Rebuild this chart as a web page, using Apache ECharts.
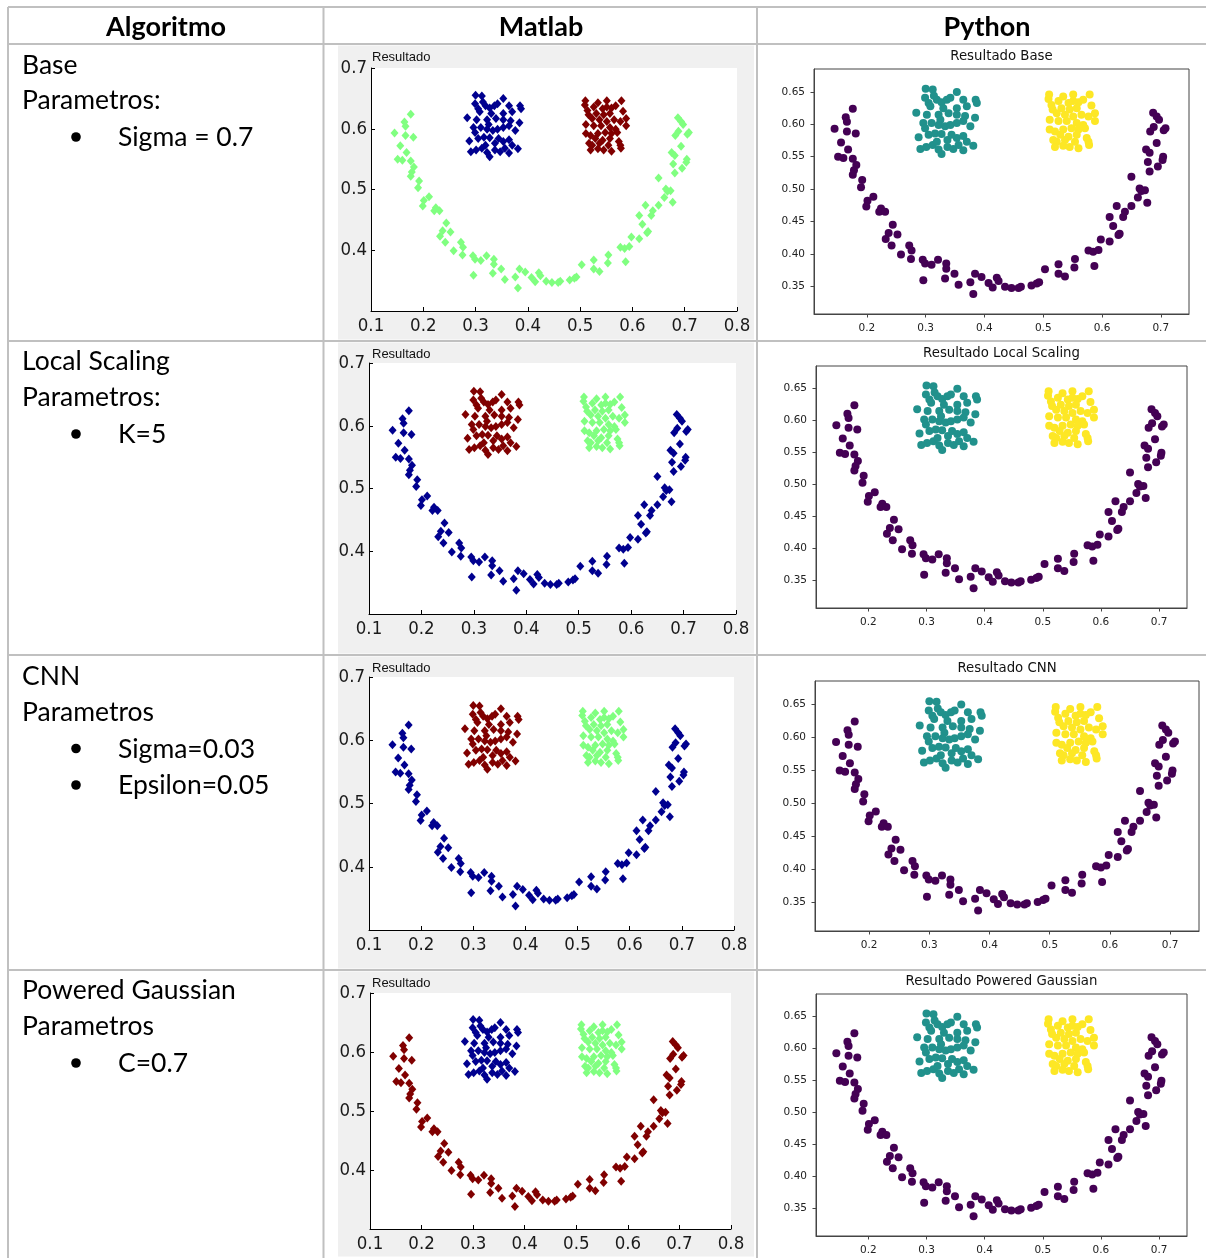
<!DOCTYPE html>
<html>
<head>
<meta charset="utf-8">
<script src="https://cdn.jsdelivr.net/npm/echarts@6/dist/echarts.min.js"></script>
<style>
html, body { margin: 0; padding: 0; background: #fff; }
#chart { width: 1206px; height: 1258px; }
</style>
</head>
<body>
<div id="chart"></div>
<script>
// puntos del dataset (media luna + dos bloques)
var moonPts = [
  [0.176,0.624],[0.164,0.611],[0.166,0.604],[0.145,0.593],[0.166,0.589],[0.181,0.586],
  [0.156,0.572],[0.168,0.561],[0.151,0.550],[0.160,0.548],[0.176,0.547],[0.182,0.537],
  [0.178,0.529],[0.176,0.522],[0.192,0.514],[0.190,0.503],[0.211,0.488],[0.201,0.482],
  [0.199,0.473],[0.224,0.470],[0.221,0.465],[0.231,0.465],[0.244,0.445],[0.237,0.432],
  [0.252,0.430],[0.232,0.423],[0.242,0.413],[0.272,0.413],[0.276,0.405],[0.258,0.399],
  [0.275,0.392],[0.295,0.391],[0.299,0.385],[0.310,0.383],[0.321,0.391],[0.335,0.385],
  [0.335,0.377],[0.296,0.359],[0.333,0.362],[0.349,0.369],[0.356,0.352],[0.384,0.369],
  [0.376,0.356],[0.381,0.338],[0.395,0.364],[0.407,0.355],[0.414,0.348],[0.421,0.363],
  [0.424,0.358],[0.435,0.349],[0.446,0.347],[0.458,0.347],[0.462,0.349],[0.480,0.351],
  [0.489,0.354],[0.493,0.356],[0.503,0.376],[0.526,0.384],[0.526,0.369],[0.537,0.365],
  [0.554,0.392],[0.553,0.379],[0.577,0.405],[0.585,0.403],[0.594,0.406],[0.587,0.381],
  [0.598,0.422],[0.613,0.419],[0.628,0.429],[0.630,0.431],[0.619,0.443],[0.613,0.457],
  [0.625,0.474],[0.636,0.457],[0.639,0.465],[0.650,0.474],[0.650,0.519],[0.664,0.501],
  [0.667,0.497],[0.661,0.487],[0.677,0.479],[0.673,0.498],[0.681,0.527],[0.678,0.542],
  [0.695,0.535],[0.704,0.550],[0.703,0.545],[0.675,0.561],[0.681,0.556],[0.693,0.571],
  [0.688,0.596],[0.705,0.591],[0.708,0.594],[0.682,0.589],[0.687,0.618],[0.693,0.612],
  [0.697,0.607]
];
var blobLeftPts = [
  [0.300,0.655],[0.312,0.654],[0.314,0.644],[0.319,0.638],[0.299,0.641],[0.305,0.633],
  [0.327,0.634],[0.336,0.638],[0.342,0.641],[0.353,0.650],[0.364,0.638],[0.385,0.638],
  [0.353,0.625],[0.370,0.628],[0.387,0.633],[0.284,0.618],[0.302,0.615],[0.322,0.615],
  [0.325,0.607],[0.339,0.617],[0.353,0.615],[0.367,0.613],[0.384,0.610],[0.296,0.602],
  [0.310,0.602],[0.322,0.599],[0.333,0.597],[0.342,0.599],[0.353,0.602],[0.364,0.605],
  [0.299,0.594],[0.288,0.580],[0.305,0.584],[0.316,0.586],[0.327,0.585],[0.337,0.576],
  [0.353,0.579],[0.364,0.582],[0.370,0.573],[0.381,0.567],[0.291,0.562],[0.301,0.565],
  [0.312,0.568],[0.322,0.561],[0.327,0.554],[0.337,0.565],[0.347,0.562],[0.364,0.560],
  [0.319,0.573],[0.356,0.568],[0.308,0.628],[0.330,0.625],[0.344,0.584],[0.376,0.597]
];
var blobRightPts = [
  [0.510,0.646],[0.509,0.639],[0.534,0.643],[0.551,0.646],[0.579,0.646],[0.526,0.636],
  [0.543,0.633],[0.560,0.634],[0.568,0.638],[0.582,0.629],[0.516,0.623],[0.531,0.625],
  [0.545,0.623],[0.557,0.625],[0.588,0.617],[0.523,0.617],[0.537,0.615],[0.551,0.612],
  [0.565,0.615],[0.577,0.612],[0.511,0.607],[0.526,0.605],[0.540,0.605],[0.557,0.602],
  [0.568,0.599],[0.588,0.605],[0.511,0.592],[0.520,0.589],[0.534,0.592],[0.548,0.594],
  [0.560,0.592],[0.571,0.594],[0.529,0.584],[0.543,0.581],[0.557,0.584],[0.574,0.579],
  [0.523,0.573],[0.537,0.576],[0.554,0.573],[0.577,0.573],[0.520,0.565],[0.534,0.567],
  [0.545,0.565],[0.560,0.563],[0.578,0.568],[0.517,0.576],[0.551,0.636],[0.514,0.630]
];

var headers = ['Algoritmo', 'Matlab', 'Python'];
var algoNames = ['Base', 'Local Scaling', 'CNN', 'Powered Gaussian'];
var paramHeads = ['Parametros:', 'Parametros:', 'Parametros', 'Parametros'];
var paramItems = [['Sigma = 0.7'], ['K=5'], ['Sigma=0.03', 'Epsilon=0.05'], ['C=0.7']];
var mlTitle = 'Resultado';
var pyTitles = ['Resultado Base', 'Resultado Local Scaling', 'Resultado CNN', 'Resultado Powered Gaussian'];
var mlXTicks = [0.1, 0.2, 0.3, 0.4, 0.5, 0.6, 0.7, 0.8];
var mlYTicks = [0.4, 0.5, 0.6, 0.7];
var pyXTicks = [0.2, 0.3, 0.4, 0.5, 0.6, 0.7];
var pyYTicks = [0.35, 0.40, 0.45, 0.50, 0.55, 0.60, 0.65];

// colores (media luna, bloque izq, bloque der)
var ML_GREEN = '#80ff80', ML_BLUE = '#00008f', ML_RED = '#800000';
var mlColors = [
  [ML_GREEN, ML_BLUE, ML_RED],
  [ML_BLUE, ML_RED, ML_GREEN],
  [ML_BLUE, ML_RED, ML_GREEN],
  [ML_RED, ML_BLUE, ML_GREEN]
];
var pyColors = ['#440154', '#21918c', '#fde725'];

// layout de la tabla
var rowTops = [44, 341, 655, 970];
var rowBottoms = [341, 655, 970, 1258];
var mlBoxes = [
  {l: 371, r: 737, t: 68, b: 311},
  {l: 369, r: 736, t: 363, b: 614},
  {l: 369, r: 734, t: 677, b: 930},
  {l: 370, r: 731, t: 993, b: 1229}
];
var pyBoxes = [
  {l: 814, r: 1189, t: 69, b: 314},
  {l: 816, r: 1187, t: 366, b: 608},
  {l: 815, r: 1199, t: 681, b: 931},
  {l: 816, r: 1187, t: 994, b: 1236}
];
var textRows = [
  [64, 99, 136],
  [360, 396, 433],
  [674.5, 711, 747.5, 784],
  [989, 1025, 1062]
];

var myChart = echarts.init(document.getElementById('chart'));
var grids = [], xAxes = [], yAxes = [], series = [], graphics = [];
var ML_FONT = '"Liberation Sans", Arial, sans-serif';
var ML_TICK_FONT = '"Liberation Sans Narrow", "DejaVu Sans Condensed", "Liberation Sans", sans-serif';
var PY_FONT = '"DejaVu Sans", sans-serif';
var DOC_FONT = 'Lato, "Open Sans", sans-serif';

function txt(x, y, text, size, opts) {
  opts = opts || {};
  graphics.push({
    type: 'text', x: x, y: y, z: 100,
    style: {
      text: text,
      fontSize: size,
      fontFamily: opts.family || DOC_FONT,
      fontWeight: opts.weight || 'normal',
      fill: opts.color || '#000',
      align: opts.align || 'left',
      verticalAlign: 'middle'
    }
  });
}

function hline(y, x1, x2) {
  graphics.push({type: 'line', z: 100, shape: {x1: x1, y1: y, x2: x2, y2: y},
    style: {stroke: '#c0c0c0', lineWidth: 2}});
}
function vline(x, y1, y2) {
  graphics.push({type: 'line', z: 100, shape: {x1: x, y1: y1, x2: x, y2: y2},
    style: {stroke: '#c0c0c0', lineWidth: 2}});
}

// lineas de la tabla
hline(7, 8, 1206);
hline(44, 8, 1206);
[341, 655, 970].forEach(function (y) { hline(y, 8, 1206); });
[8, 323.5, 757].forEach(function (x) { vline(x, 7, 1258); });

txt(166, 27, headers[0], 27, {weight: 'bold', align: 'center'});
txt(541, 27, headers[1], 27, {weight: 'bold', align: 'center'});
txt(987, 27, headers[2], 27, {weight: 'bold', align: 'center'});

for (var r = 0; r < 4; r++) {
  var ys = textRows[r];
  txt(22, ys[0] + 1.5, algoNames[r], 26.5);
  txt(22, ys[1] + 1.5, paramHeads[r], 26.5);
  paramItems[r].forEach(function (item, k) {
    graphics.push({type: 'circle', z: 100, shape: {cx: 76, cy: ys[2 + k] + 1, r: 4.8},
      style: {fill: '#000'}});
    txt(118, ys[2 + k] + 1.5, item, 26.5);
  });

  // fondo gris matlab
  graphics.push({type: 'rect', z: -1,
    shape: {x: 338, y: rowTops[r] + 1.5, width: 416, height: rowBottoms[r] - rowTops[r] - 3},
    style: {fill: '#f0f0f0'}});

  // ---- Matlab ----
  var mb = mlBoxes[r];
  var gi = grids.length;
  grids.push({left: mb.l, top: mb.t, width: mb.r - mb.l, height: mb.b - mb.t,
    show: true, backgroundColor: '#fff', borderWidth: 0, containLabel: false});
  xAxes.push({
    gridIndex: gi, type: 'value', min: 0.1, max: 0.8, interval: 0.1,
    axisLine: {show: true, onZero: false, lineStyle: {color: '#000', width: 1}},
    axisTick: {show: true, inside: true, length: 4, customValues: mlXTicks, lineStyle: {color: '#000'}},
    axisLabel: {customValues: mlXTicks, formatter: function (v) { return v.toFixed(1); },
      fontFamily: ML_TICK_FONT, fontSize: 18.5, color: '#1a1a1a', margin: 6},
    splitLine: {show: false}
  });
  yAxes.push({
    gridIndex: gi, type: 'value', min: 0.3, max: 0.7, interval: 0.1,
    axisLine: {show: true, onZero: false, lineStyle: {color: '#000', width: 1}},
    axisTick: {show: true, inside: true, length: 4, customValues: mlYTicks, lineStyle: {color: '#000'}},
    axisLabel: {customValues: mlYTicks, formatter: function (v) { return v.toFixed(1); },
      fontFamily: ML_TICK_FONT, fontSize: 18.5, color: '#1a1a1a', margin: 4},
    splitLine: {show: false}
  });
  [moonPts, blobLeftPts, blobRightPts].forEach(function (pts, k) {
    series.push({type: 'scatter', xAxisIndex: gi, yAxisIndex: gi, data: pts,
      symbol: 'diamond', symbolSize: [8, 9], silent: true,
      itemStyle: {color: mlColors[r][k], opacity: 1}});
  });
  txt(372, rowTops[r] + 13, mlTitle, 13, {family: ML_FONT, color: '#111'});

  // ---- Python ----
  var pb = pyBoxes[r];
  gi = grids.length;
  grids.push({left: pb.l, top: pb.t, width: pb.r - pb.l, height: pb.b - pb.t,
    show: true, backgroundColor: '#fff', borderColor: '#444', borderWidth: 1, containLabel: false});
  xAxes.push({
    gridIndex: gi, type: 'value', min: 0.110, max: 0.748,
    axisLine: {show: true, onZero: false, lineStyle: {color: '#444', width: 1}},
    axisTick: {show: true, inside: false, length: 3.5, customValues: pyXTicks, lineStyle: {color: '#444'}},
    axisLabel: {customValues: pyXTicks, formatter: function (v) { return v.toFixed(1); },
      fontFamily: PY_FONT, fontSize: 10.5, color: '#222', margin: 8.5},
    splitLine: {show: false}
  });
  yAxes.push({
    gridIndex: gi, type: 'value', min: 0.307, max: 0.6855,
    axisLine: {show: true, onZero: false, lineStyle: {color: '#444', width: 1}},
    axisTick: {show: true, inside: false, length: 3.5, customValues: pyYTicks, lineStyle: {color: '#444'}},
    axisLabel: {customValues: pyYTicks, formatter: function (v) { return v.toFixed(2); },
      fontFamily: PY_FONT, fontSize: 10.5, color: '#222', margin: 9},
    splitLine: {show: false}
  });
  [moonPts, blobLeftPts, blobRightPts].forEach(function (pts, k) {
    series.push({type: 'scatter', xAxisIndex: gi, yAxisIndex: gi, data: pts,
      symbol: 'circle', symbolSize: 8, silent: true,
      itemStyle: {color: pyColors[k], opacity: 1}});
  });
  txt((pb.l + pb.r) / 2, pb.t - 12, pyTitles[r], 13.3, {family: PY_FONT, color: '#111', align: 'center'});
}

myChart.setOption({
  animation: false,
  grid: grids,
  xAxis: xAxes,
  yAxis: yAxes,
  series: series,
  graphic: {elements: graphics}
});
</script>
</body>
</html>
